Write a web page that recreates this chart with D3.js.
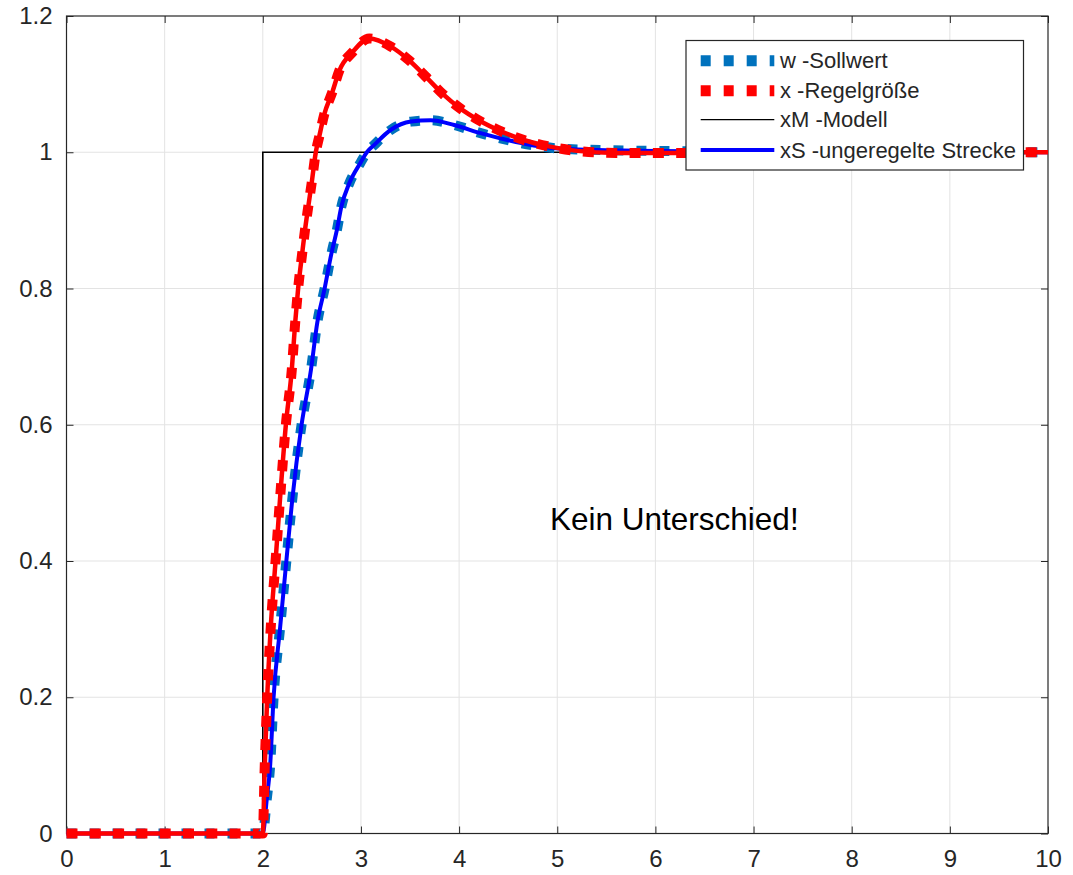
<!DOCTYPE html>
<html>
<head>
<meta charset="utf-8">
<script src="https://cdn.jsdelivr.net/npm/d3@7"></script>
<style>
  body { margin: 0; background: #fff; }
  svg { display: block; font-family: "Liberation Sans", Arial, sans-serif; }
</style>
</head>
<body>
<svg id="chart" width="1073" height="875"></svg>
<script>
// x-axis / y-axis ticks
const xTickValues = [0, 1, 2, 3, 4, 5, 6, 7, 8, 9, 10];
const yTickValues = [0, 0.2, 0.4, 0.6, 0.8, 1, 1.2];
const yTickLabels = ['0', '0.2', '0.4', '0.6', '0.8', '1', '1.2'];

// x - Regelgröße (red)
const xTime = [0, 2, 2.02, 2.045, 2.08, 2.13, 2.18, 2.235, 2.295, 2.33, 2.36, 2.40, 2.43, 2.463,
  2.497, 2.54, 2.575, 2.625, 2.71, 2.78, 2.915, 3.085, 3.305, 3.49, 3.66, 3.83, 4.015, 4.2,
  4.44, 4.66, 4.9, 5.2, 5.6, 6.2, 7, 10];
const xValues = [0, 0, 0.1, 0.2, 0.3, 0.4, 0.5, 0.6, 0.68, 0.75, 0.8, 0.85, 0.886, 0.92,
  0.954, 1.0, 1.023, 1.055, 1.089, 1.12, 1.147, 1.167, 1.155, 1.135, 1.111, 1.086, 1.064, 1.047,
  1.03, 1.018, 1.009, 1.002, 0.999, 0.999, 1, 1];

// xS - ungeregelte Strecke (blue)
const sTime = [0, 2, 2.04, 2.075, 2.11, 2.175, 2.24, 2.30, 2.395, 2.49, 2.555, 2.63, 2.70, 2.755,
  2.80, 2.88, 2.997, 3.06, 3.13, 3.305, 3.51, 3.71, 3.95, 4.22, 4.49, 4.76, 5.06, 5.5, 6, 7, 10];
const sValues = [0, 0, 0.05, 0.1, 0.2, 0.3, 0.4, 0.49, 0.6, 0.68, 0.75, 0.8, 0.852, 0.886,
  0.92, 0.954, 0.985, 1.0, 1.01, 1.033, 1.045, 1.047, 1.04, 1.028, 1.018, 1.01, 1.005, 1.003, 1.002, 1.001, 1];

// w - Sollwert (same as xS, "Kein Unterschied!")
const wTime = sTime.slice();
const wValues = sValues.slice();

// xM - Modell (step)
const mTime = [0, 2, 10];
const mValues = [0, 1, 1];

const legendLabels = ['w -Sollwert', 'x -Regelgröße', 'xM -Modell', 'xS -ungeregelte Strecke'];

const svg = d3.select('#chart');
const plotLeft = 66.5, plotRight = 1048, plotTop = 16, plotBottom = 833.5;
const axisColor = '#262626';

let x = d3.scaleLinear().domain([0, 10]).range([plotLeft, plotRight]);
let y = d3.scaleLinear().domain([0, 1.2]).range([plotBottom, plotTop]);

// grid
let grid = svg.append('g').attr('class', 'grid')
  .attr('stroke', '#e3e3e3').attr('stroke-width', 1);
grid.selectAll('.gx').data(xTickValues.slice(1, -1)).enter().append('line')
  .attr('x1', d => x(d)).attr('x2', d => x(d)).attr('y1', plotTop).attr('y2', plotBottom);
grid.selectAll('.gy').data(yTickValues.slice(1, -1)).enter().append('line')
  .attr('y1', d => y(d)).attr('y2', d => y(d)).attr('x1', plotLeft).attr('x2', plotRight);

// axes (ticks inward, MATLAB style box)
svg.append('g').attr('transform', 'translate(0,' + plotBottom + ')')
  .call(d3.axisBottom(x).tickValues(xTickValues).tickSizeInner(-7).tickSizeOuter(0).tickPadding(16)
    .tickFormat(d3.format('d')));
svg.append('g').attr('transform', 'translate(0,' + plotTop + ')')
  .call(d3.axisTop(x).tickValues(xTickValues).tickSizeInner(-7).tickSizeOuter(0).tickFormat(''));
svg.append('g').attr('transform', 'translate(' + plotLeft + ',0)')
  .call(d3.axisLeft(y).tickValues(yTickValues).tickSizeInner(-7).tickSizeOuter(0).tickPadding(14)
    .tickFormat((d, i) => yTickLabels[i]));
svg.append('g').attr('transform', 'translate(' + plotRight + ',0)')
  .call(d3.axisRight(y).tickValues(yTickValues).tickSizeInner(-7).tickSizeOuter(0).tickFormat(''));

svg.selectAll('.domain').remove();
svg.selectAll('.tick line').attr('stroke', axisColor);
svg.selectAll('.tick text').attr('fill', axisColor).style('font-size', '24px')
  .style('font-family', '"Liberation Sans", Arial, sans-serif');

svg.append('rect')
  .attr('x', plotLeft).attr('y', plotTop).attr('width', plotRight - plotLeft).attr('height', plotBottom - plotTop)
  .attr('fill', 'none').attr('stroke', axisColor).attr('stroke-width', 1.2);

// curves
function series(ts, vs) {
  return ts.map(function(t, i) { return {t: t, v: vs[i]}; });
}
let line = d3.line().x(d => x(d.t)).y(d => y(d.v)).curve(d3.curveMonotoneX);
let stepLine = d3.line().x(d => x(d.t)).y(d => y(d.v)).curve(d3.curveStepAfter);

svg.append('path').attr('d', stepLine(series(mTime, mValues)))
  .attr('fill', 'none').attr('stroke', '#000').attr('stroke-width', 1.6);

svg.append('path').attr('d', line(series(wTime, wValues)))
  .attr('fill', 'none').attr('stroke', '#0072BD').attr('stroke-width', 10)
  .attr('stroke-dasharray', '10,13');

svg.append('path').attr('d', line(series(sTime, sValues)))
  .attr('fill', 'none').attr('stroke', '#0000ff').attr('stroke-width', 4);

svg.append('path').attr('d', line(series(xTime, xValues)))
  .attr('fill', 'none').attr('stroke', '#ff0000').attr('stroke-width', 4.5);
svg.append('path').attr('d', line(series(xTime, xValues)))
  .attr('fill', 'none').attr('stroke', '#ff0000').attr('stroke-width', 10)
  .attr('stroke-dasharray', '11,12.3');

// annotation
svg.append('text').attr('x', 550).attr('y', 530)
  .style('font-size', '31.5px').attr('fill', '#000').text('Kein Unterschied!');

// legend
let lg = svg.append('g').attr('class', 'legend');
lg.append('rect').attr('x', 686).attr('y', 40.5).attr('width', 337.5).attr('height', 129.5)
  .attr('fill', '#fff').attr('stroke', axisColor).attr('stroke-width', 1.2);
let legendStyles = [
  {color: '#0072BD', width: 11, dash: '10,13'},
  {color: '#ff0000', width: 11, dash: '10,13'},
  {color: '#000', width: 1.3, dash: null},
  {color: '#0000ff', width: 4, dash: null}
];
let rowY = [60.7, 90.7, 119.6, 150];
legendLabels.forEach(function(label, i) {
  let s = legendStyles[i];
  let ln = lg.append('line').attr('x1', 700.7).attr('x2', 774.3).attr('y1', rowY[i]).attr('y2', rowY[i])
    .attr('stroke', s.color).attr('stroke-width', s.width);
  if (s.dash) ln.attr('stroke-dasharray', s.dash);
  lg.append('text').attr('x', 780).attr('y', rowY[i] + 7.5)
    .style('font-size', '22px').attr('fill', axisColor).text(label);
});
</script>
</body>
</html>
